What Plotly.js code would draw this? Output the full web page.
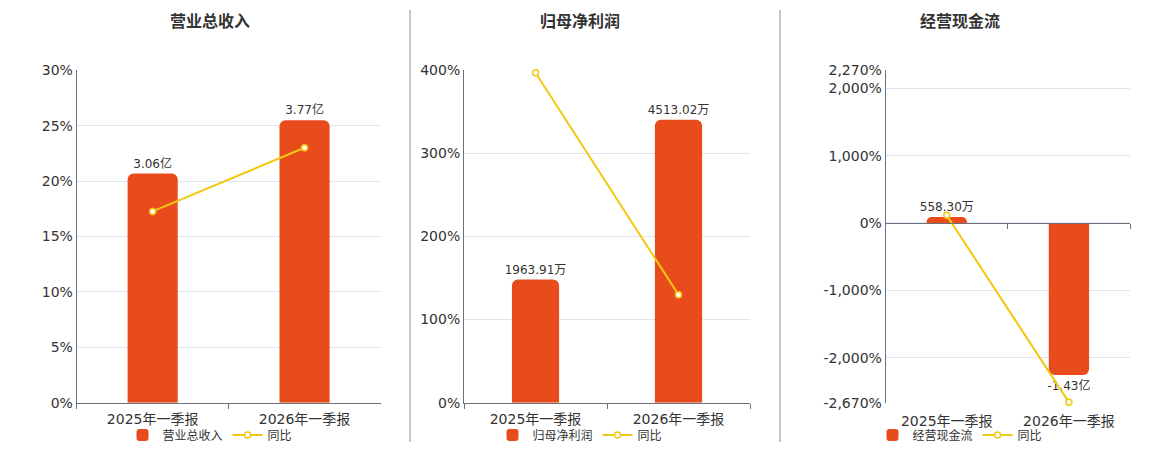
<!DOCTYPE html>
<html>
<head>
<meta charset="utf-8">
<script src="https://cdn.plot.ly/plotly-3.0.1.min.js"></script>
<style>
html,body{margin:0;padding:0;background:#fff;}
#chart{width:1160px;height:450px;}
</style>
</head>
<body>
<div id="chart"></div>
<script>
// ---- data ----
const categories = ['2025年一季报', '2026年一季报'];
const panelTitles = ['营业总收入', '归母净利润', '经营现金流'];
const yoyName = '同比';

const revenue = [3.06, 3.77];            // 亿
const revenueLabels = ['3.06亿', '3.77亿'];
const revenueYoy = [17.26, 23.0];        // %
const revenueTickVals = [0, 5, 10, 15, 20, 25, 30];
const revenueTickText = ['0%', '5%', '10%', '15%', '20%', '25%', '30%'];

const profit = [1963.91, 4513.02];       // 万
const profitLabels = ['1963.91万', '4513.02万'];
const profitYoy = [396.9, 129.9];        // %
const profitTickVals = [0, 100, 200, 300, 400];
const profitTickText = ['0%', '100%', '200%', '300%', '400%'];

const cashflow = [558.30, -14300];       // 万
const cashflowLabels = ['558.30万', '-1.43亿'];
const cashflowYoy = [113.5, -2665];      // %
const cashTickVals = [-2670, -2000, -1000, 0, 1000, 2000, 2270];
const cashTickText = ['-2,670%', '-2,000%', '-1,000%', '0%', '1,000%', '2,000%', '2,270%'];

// ---- style ----
const FONT = 'DejaVu Sans, Verdana, Noto Sans CJK SC, sans-serif';
const BAR = '#E84C1C';
const LINE = '#F2C811';
const AXIS = '#6E7079';
const GRID = '#E0E6F1';
const TXT = '#333333';

const W = 1160, H = 450;
const yDom = [(H - 404.5) / H, (H - 70.5) / H];
const xDoms = [[76.7 / W, 380.5 / W], [464 / W, 750 / W], [885.7 / W, 1130 / W]];
const legendX = [210 / W, 580 / W, 960 / W];
const titleX = [210 / W, 580 / W, 960 / W];

function barTrace(vals, labels, name, xa, ya, leg) {
  return {
    type: 'bar', x: categories, y: vals, name: name, xaxis: xa, yaxis: ya,
    legend: leg, width: 0.33,
    marker: {color: BAR},
    text: labels, texttemplate: '%{text}', textposition: 'outside', constraintext: 'none',
    textfont: {size: 12, color: TXT, family: FONT},
    cliponaxis: false, hoverinfo: 'skip'
  };
}
function lineTrace(vals, xa, ya, leg) {
  return {
    type: 'scatter', mode: 'lines+markers', x: categories, y: vals, name: yoyName,
    xaxis: xa, yaxis: ya, legend: leg,
    line: {color: LINE, width: 2},
    marker: {symbol: 'circle', size: 6, color: '#ffffff', line: {color: LINE, width: 1.5}},
    cliponaxis: false, hoverinfo: 'skip'
  };
}

const data = [
  barTrace(revenue, revenueLabels, panelTitles[0], 'x', 'y', 'legend'),
  lineTrace(revenueYoy, 'x', 'y2', 'legend'),
  barTrace(profit, profitLabels, panelTitles[1], 'x2', 'y3', 'legend2'),
  lineTrace(profitYoy, 'x2', 'y4', 'legend2'),
  barTrace(cashflow, cashflowLabels, panelTitles[2], 'x3', 'y5', 'legend3'),
  lineTrace(cashflowYoy, 'x3', 'y6', 'legend3'),
  // invisible carrier for the zero-line category axis of panel 3
  {type: 'scatter', mode: 'markers', x: categories, y: cashflowYoy, xaxis: 'x4', yaxis: 'y6',
   marker: {opacity: 0}, showlegend: false, hoverinfo: 'skip'}
];

function xAxis(dom, anchor, bottomLine) {
  return {
    domain: dom, anchor: anchor, type: 'category', range: [-0.5, 1.5],
    showgrid: false, zeroline: false,
    showline: bottomLine, linecolor: AXIS, linewidth: 1.5,
    ticks: bottomLine ? 'outside' : '', tickson: 'boundaries', ticklen: 5, tickcolor: AXIS, tickwidth: 1,
    ticklabelstandoff: bottomLine ? 3 : 8,
    tickfont: {size: 14, color: TXT, family: FONT}, fixedrange: true
  };
}
function hiddenY(range, anchor) {
  return {domain: yDom, anchor: anchor, range: range, showgrid: false, zeroline: false,
          showline: false, showticklabels: false, ticks: '', fixedrange: true};
}
function visY(range, anchor, over, vals, texts) {
  return {
    domain: yDom, anchor: anchor, overlaying: over, side: 'left', range: range,
    showgrid: true, gridcolor: GRID, gridwidth: 1, zeroline: false,
    showline: true, linecolor: AXIS, linewidth: 1, ticks: '',
    tickmode: 'array', tickvals: vals, ticktext: texts,
    tickfont: {size: 14, color: TXT, family: FONT}, fixedrange: true
  };
}
function legend(i) {
  return {orientation: 'h', x: legendX[i], xanchor: 'center', y: 13 / H, yanchor: 'middle',
          font: {size: 12, color: TXT, family: FONT}, bgcolor: 'rgba(0,0,0,0)',
          itemclick: false, itemdoubleclick: false, tracegroupgap: 0};
}

const layout = {
  width: W, height: H,
  margin: {l: 0, r: 0, t: 0, b: 0},
  paper_bgcolor: '#ffffff', plot_bgcolor: 'rgba(0,0,0,0)',
  font: {family: FONT, color: TXT},
  barcornerradius: 6,
  showlegend: true,
  xaxis: xAxis(xDoms[0], 'y2', true),
  yaxis: hiddenY([0, 4.44], 'x'),
  yaxis2: visY([0, 30], 'x', 'y', revenueTickVals, revenueTickText),
  xaxis2: xAxis(xDoms[1], 'y4', true),
  yaxis3: hiddenY([0, 5303], 'x2'),
  yaxis4: visY([0, 400], 'x2', 'y3', profitTickVals, profitTickText),
  xaxis3: xAxis(xDoms[2], 'y6', false),
  yaxis5: hiddenY([-16917, 14384], 'x3'),
  yaxis6: visY([-2670, 2270], 'x3', 'y5', cashTickVals, cashTickText),
  xaxis4: Object.assign(xAxis(xDoms[2], 'free', true), {
    overlaying: 'x3', position: yDom[0] + (0 - (-2670)) / (2270 - (-2670)) * (yDom[1] - yDom[0]),
    showticklabels: false
  }),
  legend: legend(0), legend2: legend(1), legend3: legend(2),
  annotations: panelTitles.map((t, i) => ({
    text: '<b>' + t + '</b>', xref: 'paper', yref: 'paper', x: titleX[i], y: (H - 22) / H,
    xanchor: 'center', yanchor: 'middle', showarrow: false,
    font: {size: 16, color: TXT, family: FONT}
  })),
  shapes: [410, 780].map(px => ({
    type: 'line', xref: 'paper', yref: 'paper', x0: px / W, x1: px / W, y0: (H - 10) / H, y1: (H - 444) / H,
    line: {color: '#AAAAAA', width: 1.3}
  }))
};

Plotly.newPlot('chart', data, layout, {displayModeBar: false, staticPlot: true});
</script>
</body>
</html>
